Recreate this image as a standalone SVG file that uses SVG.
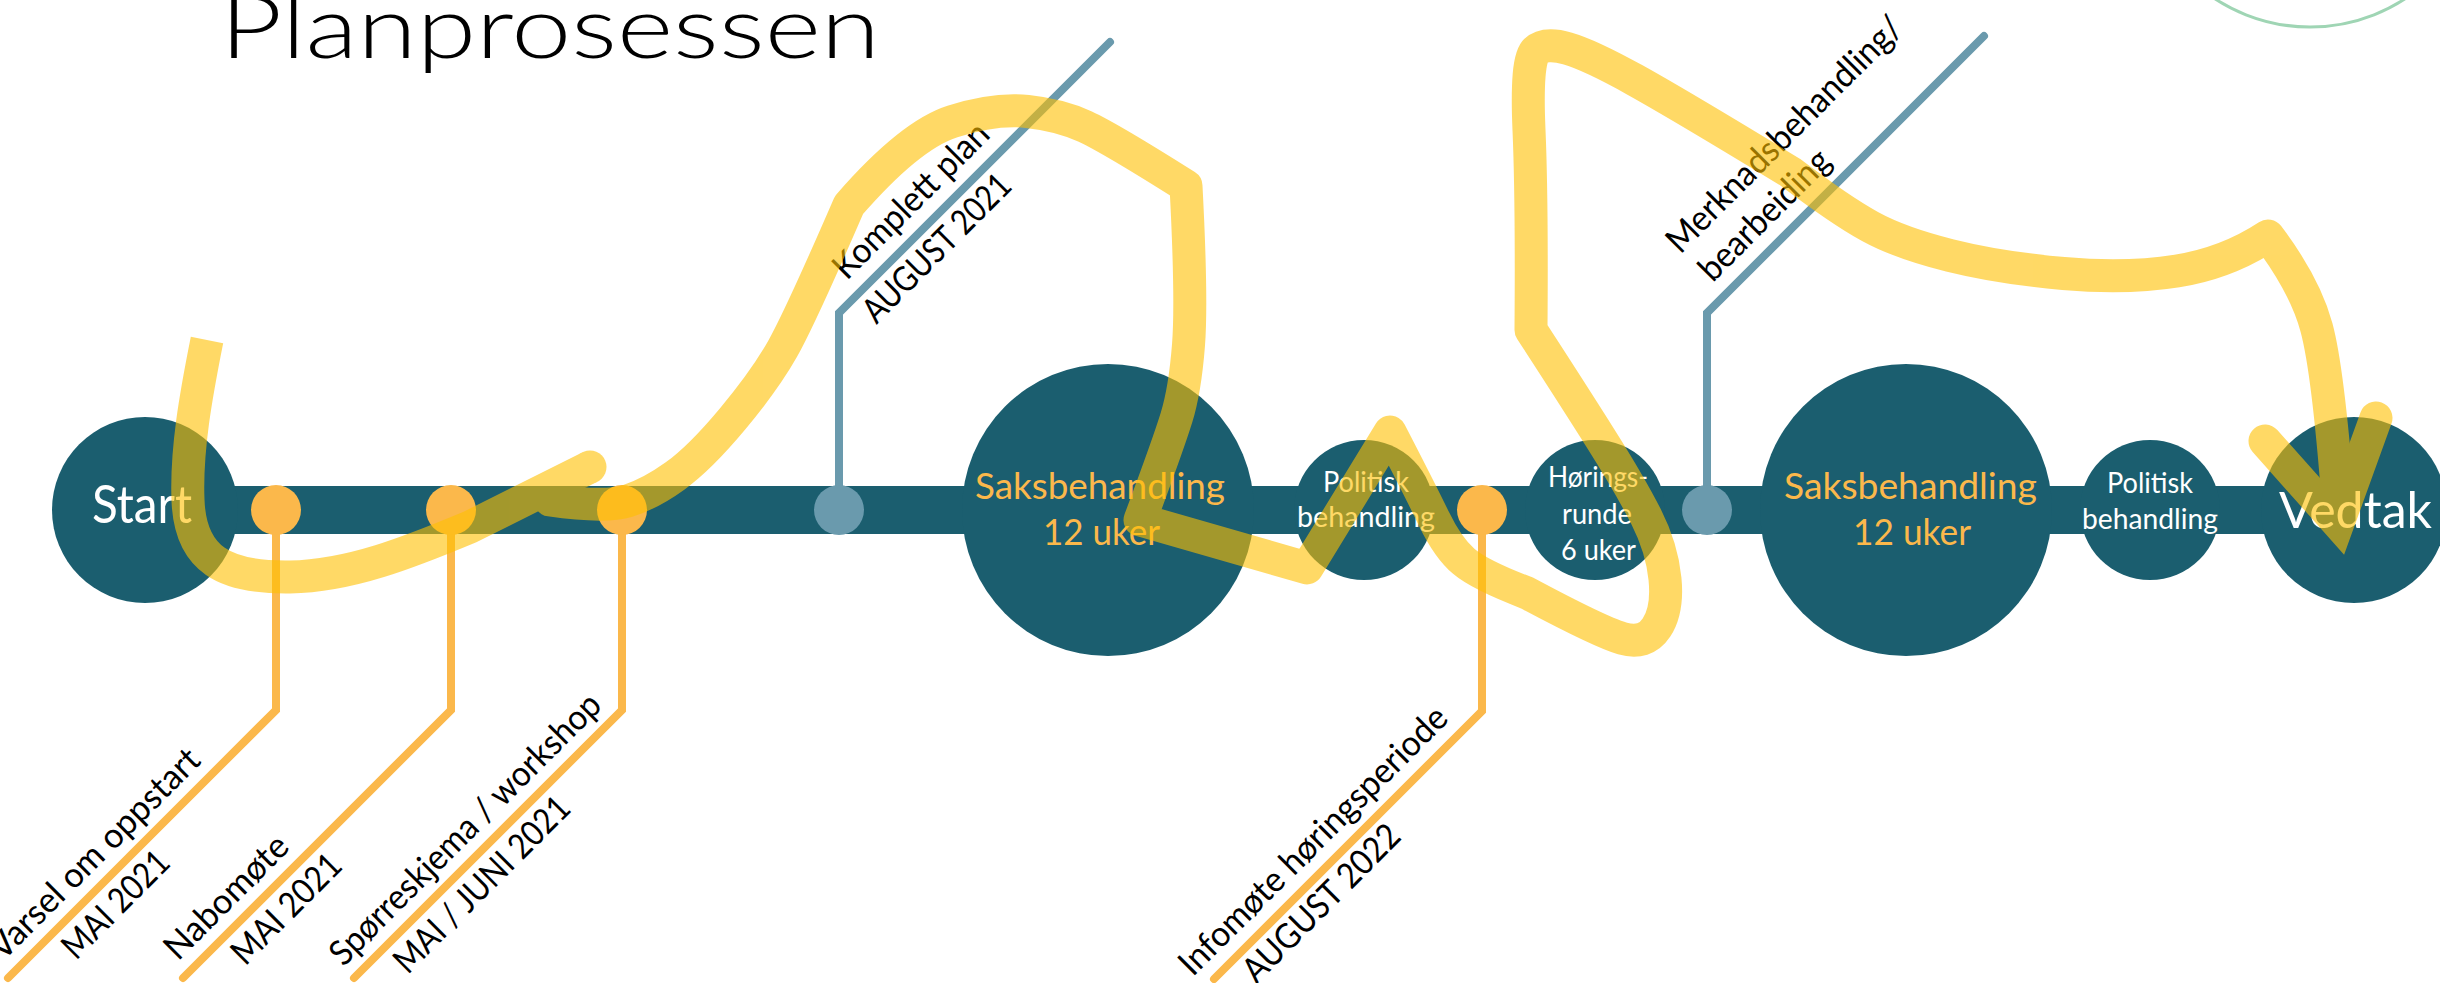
<svg xmlns="http://www.w3.org/2000/svg" width="2440" height="983" viewBox="0 0 2440 983">
<style>
.teal{fill:#1B5E6F}
.nl{font-family:Lato,"Open Sans","Liberation Sans",sans-serif}
.wt{fill:#ffffff}
.or{fill:#FBB84B}
.diag{font-family:Lato,"Open Sans","Liberation Sans",sans-serif;font-size:35px;fill:#000000}
.stemO{fill:none;stroke:#FBB84B;stroke-width:8;stroke-linecap:round;stroke-linejoin:miter}
.stemB{fill:none;stroke:#6A9AAD;stroke-width:8;stroke-linecap:round;stroke-linejoin:miter}
.dotO{fill:#FBB84B}
.dotB{fill:#6A9AAD}
.ys{fill:none;stroke:#FFC000;stroke-width:33}
</style>
<rect width="2440" height="983" fill="#ffffff"/>
<text x="220" y="58" font-family="Lato,'Open Sans',sans-serif" font-weight="300" font-size="86" textLength="660" lengthAdjust="spacingAndGlyphs" fill="#000">Planprosessen</text>
<circle cx="2310" cy="-147" r="174" fill="none" stroke="#9FD5B4" stroke-width="3"/>

<g id="connectors">
  <rect class="teal" x="145" y="486" width="2209" height="48"/>
  <path class="stemO" d="M276,510 V710 L8,978"/>
  <path class="stemO" d="M451,510 V710 L183,978"/>
  <path class="stemO" d="M622,510 V710 L354,978"/>
  <path class="stemO" d="M1482,510 V711 L1214,979"/>
  <path class="stemB" d="M839,510 V313 L1110,42"/>
  <path class="stemB" d="M1707,510 V313 L1984,36"/>
</g>

<g id="start"><circle class="teal" cx="145" cy="510" r="93"/>
  <text class="nl wt" x="92" y="523" font-size="52" textLength="100" lengthAdjust="spacingAndGlyphs">Start</text></g>
<g id="saks1"><circle class="teal" cx="1108" cy="510" r="146"/>
  <text class="nl or" x="975" y="499" font-size="37" textLength="250" lengthAdjust="spacingAndGlyphs">Saksbehandling</text>
  <text class="nl or" x="1043" y="545" font-size="37" textLength="117" lengthAdjust="spacingAndGlyphs">12 uker</text></g>
<g id="pol1"><circle class="teal" cx="1364" cy="510" r="70"/>
  <text class="nl wt" x="1323" y="492" font-size="28" textLength="86" lengthAdjust="spacingAndGlyphs">Politisk</text>
  <text class="nl wt" x="1297" y="527" font-size="28" textLength="138" lengthAdjust="spacingAndGlyphs">behandling</text></g>
<g id="horing"><circle class="teal" cx="1595" cy="510" r="70"/>
  <text class="nl wt" x="1548" y="487" font-size="28" textLength="100" lengthAdjust="spacingAndGlyphs">Hørings-</text>
  <text class="nl wt" x="1562" y="524" font-size="28" textLength="70" lengthAdjust="spacingAndGlyphs">runde</text>
  <text class="nl wt" x="1561" y="560" font-size="28" textLength="75" lengthAdjust="spacingAndGlyphs">6 uker</text></g>
<g id="saks2"><circle class="teal" cx="1906" cy="510" r="146"/>
  <text class="nl or" x="1784" y="499" font-size="37" textLength="253" lengthAdjust="spacingAndGlyphs">Saksbehandling</text>
  <text class="nl or" x="1853" y="545" font-size="37" textLength="118" lengthAdjust="spacingAndGlyphs">12 uker</text></g>
<g id="pol2"><circle class="teal" cx="2150" cy="510" r="70"/>
  <text class="nl wt" x="2107" y="493" font-size="28" textLength="86" lengthAdjust="spacingAndGlyphs">Politisk</text>
  <text class="nl wt" x="2082" y="529" font-size="28" textLength="136" lengthAdjust="spacingAndGlyphs">behandling</text></g>
<g id="vedtak"><circle class="teal" cx="2354" cy="510" r="93"/>
  <text class="nl wt" x="2279" y="528" font-size="51" textLength="153" lengthAdjust="spacingAndGlyphs">Vedtak</text></g>

<g id="m-varsel"><circle class="dotO" cx="276" cy="510" r="25"/>
  <g transform="translate(8,978) rotate(-45)">
    <text class="diag" x="8" y="-15" textLength="282" lengthAdjust="spacingAndGlyphs">Varsel om oppstart</text>
    <text class="diag" x="60" y="36" textLength="136" lengthAdjust="spacingAndGlyphs">MAI 2021</text></g></g>
<g id="m-nabomote"><circle class="dotO" cx="451" cy="510" r="25"/>
  <g transform="translate(183,978) rotate(-45)">
    <text class="diag" x="8" y="-15" textLength="160" lengthAdjust="spacingAndGlyphs">Nabomøte</text>
    <text class="diag" x="52" y="36" textLength="140" lengthAdjust="spacingAndGlyphs">MAI 2021</text></g></g>
<g id="m-sporreskjema"><circle class="dotO" cx="622" cy="510" r="25"/>
  <g transform="translate(354,978) rotate(-45)">
    <text class="diag" x="0" y="-15" textLength="368" lengthAdjust="spacingAndGlyphs">Spørreskjema / workshop</text>
    <text class="diag" x="40" y="36" textLength="233" lengthAdjust="spacingAndGlyphs">MAI / JUNI 2021</text></g></g>
<g id="m-komplett"><circle class="dotB" cx="839" cy="510" r="25"/>
  <g transform="translate(839,313) rotate(-45)">
    <text class="diag" x="28" y="-17" textLength="205" lengthAdjust="spacingAndGlyphs">Komplett plan</text>
    <text class="diag" x="18" y="35" textLength="194" lengthAdjust="spacingAndGlyphs">AUGUST 2021</text></g></g>
<g id="m-infomote"><circle class="dotO" cx="1482" cy="510" r="25"/>
  <g transform="translate(1214,979) rotate(-45)">
    <text class="diag" x="-14" y="-16" textLength="364" lengthAdjust="spacingAndGlyphs">Infomøte høringsperiode</text>
    <text class="diag" x="26" y="34" textLength="207" lengthAdjust="spacingAndGlyphs">AUGUST 2022</text></g></g>
<g id="m-merknad"><circle class="dotB" cx="1707" cy="510" r="25"/>
  <g transform="translate(1707,313) rotate(-45)">
    <text class="diag" x="22" y="-60" textLength="318" lengthAdjust="spacingAndGlyphs">Merknadsbehandling/</text>
    <text class="diag" x="25" y="-17" textLength="170" lengthAdjust="spacingAndGlyphs">bearbeiding</text></g></g>

<g id="yellow-path" opacity="0.6">
  <path class="ys" stroke-linecap="butt" d="M207,340 C196,395 186,450 188,500 C190,560 225,578 290,577 C350,576 410,552 470,527 L590,467"/>
  <circle cx="590" cy="467" r="16.5" fill="#FFC000"/>
  <path class="ys" stroke-linecap="round" stroke-linejoin="round" d="M550,500 Q605,508 627.5,501 Q650,494 675,476 Q700,458 732.5,419 Q765,380 782.5,349 Q800,318 849,205 Q910,135 952.5,121.5 Q995,108 1027.5,111.5 Q1060,115 1085,126.5 Q1110,138 1186,186 Q1192,300 1188.5,345 Q1185,390 1176.5,417.5 Q1168,445 1140,520 L1307,568 L1390,432 Q1420,490 1434,519 Q1448,548 1464,561.5 Q1480,575 1527,593 Q1600,632 1622.5,638.5 Q1645,645 1656.5,627.5 Q1668,610 1665,579 Q1662,548 1646,516.5 Q1630,485 1600,437.5 Q1570,390 1531,330 Q1532,200 1529,130 Q1526,60 1535.5,51 Q1545,42 1567.5,48.5 Q1590,55 1635,80 Q1680,105 1790,172 Q1840,210 1870,226.5 Q1900,243 1950,255.5 Q2000,268 2063.5,273.5 Q2127,279 2177,271 Q2227,263 2268,236 Q2305,285 2316.5,327.5 Q2328,370 2338,500"/>
  <path class="ys" stroke-linecap="round" stroke-linejoin="miter" d="M2265,441 L2338,523 L2376,418"/>
</g>
</svg>
